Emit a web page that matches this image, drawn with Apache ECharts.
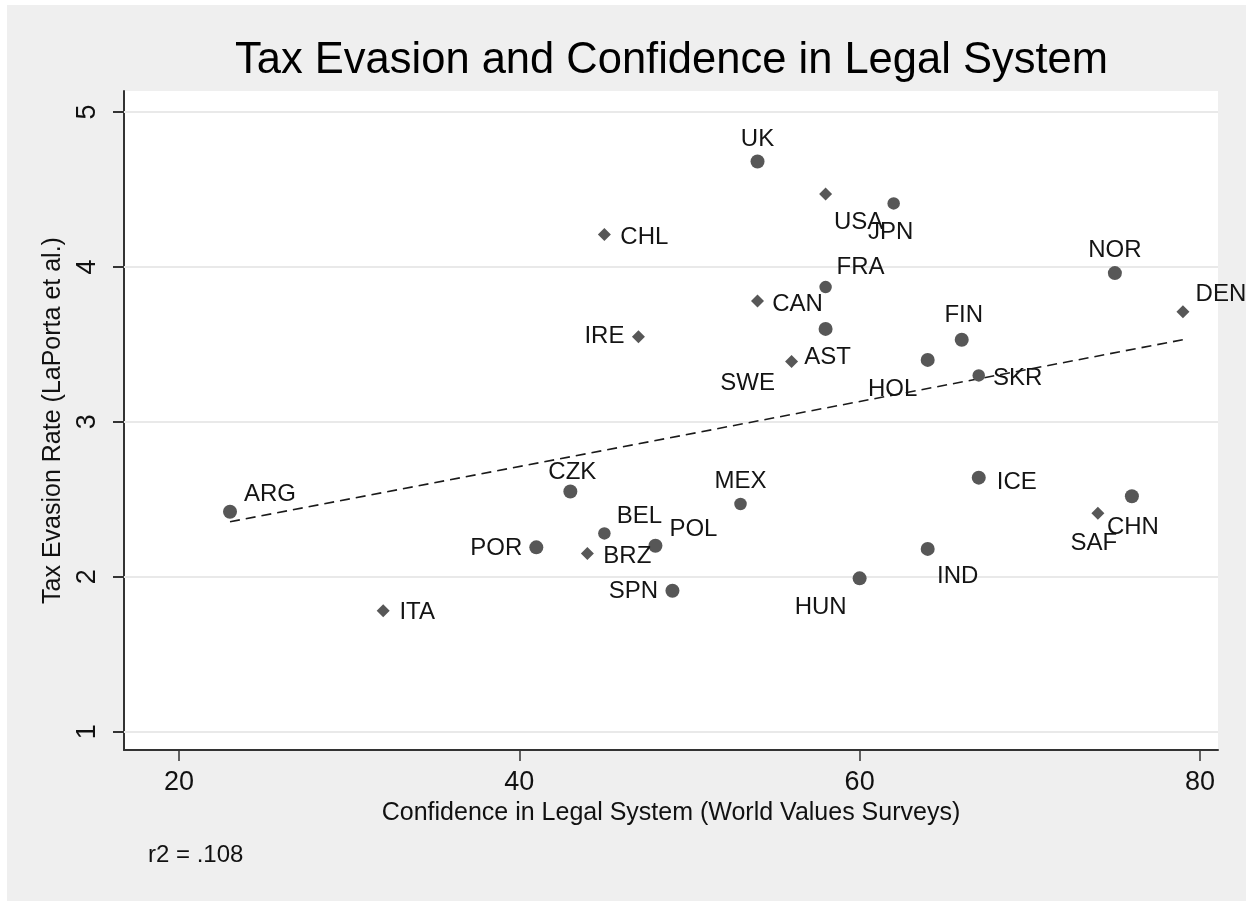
<!DOCTYPE html>
<html>
<head>
<meta charset="utf-8">
<title>Tax Evasion and Confidence in Legal System</title>
<script src="https://cdn.jsdelivr.net/npm/echarts@6/dist/echarts.min.js"></script>
<style>
  html, body { margin: 0; padding: 0; background: #ffffff; width: 1246px; height: 901px; overflow: hidden; }
  #chart { position: absolute; left: 7px; top: 5px; width: 1239px; height: 896px; }
</style>
</head>
<body>
<div id="chart"></div>
<script>
// Country codes, confidence in legal system (%), tax evasion rating
const countries = ['UK','USA','JPN','CHL','FRA','CAN','IRE','AST','SWE','HOL','FIN','SKR','NOR','DEN',
                   'ARG','CZK','POR','ITA','MEX','BEL','BRZ','POL','SPN','HUN','IND','ICE','SAF','CHN'];
const confidence = [54, 58, 62, 45, 58, 54, 47, 58, 56, 64, 66, 67, 75, 79,
                    23, 43, 41, 32, 53, 45, 44, 48, 49, 60, 64, 67, 74, 76];
const evasion = [4.68, 4.47, 4.41, 4.21, 3.87, 3.78, 3.55, 3.60, 3.39, 3.40, 3.53, 3.30, 3.96, 3.71,
                 2.42, 2.55, 2.19, 1.78, 2.47, 2.28, 2.15, 2.20, 1.91, 1.99, 2.18, 2.64, 2.41, 2.52];

// Linear fit (fitted values at the ends of the x range)
const fitX = [23, 79];
const fitY = [2.355, 3.53];

const xTicks = [20, 40, 60, 80];
const yTicks = [1, 2, 3, 4, 5];
const rSquared = '.108';

// ---- styling ----
const FONT = '"Liberation Sans", Arial, Helvetica, sans-serif';
const markerKinds = {
  big:   { symbol: 'circle',  size: 14 },
  mid:   { symbol: 'circle',  size: 12.5 },
  small: { symbol: 'diamond', size: 13 }
};
const markerKindOf = {
  UK: 'big', AST: 'big', HOL: 'big', FIN: 'big', NOR: 'big', ARG: 'big', CZK: 'big', POR: 'big',
  POL: 'big', SPN: 'big', HUN: 'big', IND: 'big', ICE: 'big', CHN: 'big',
  JPN: 'mid', MEX: 'mid', BEL: 'mid', SKR: 'mid', FRA: 'mid',
  USA: 'small', CHL: 'small', CAN: 'small', IRE: 'small', SWE: 'small', DEN: 'small',
  ITA: 'small', BRZ: 'small', SAF: 'small'
};
// label centre offset from marker centre, in px
const labelOffset = {
  UK: [0, -22], USA: [33, 28], JPN: [-3, 29], CHL: [40, 3], FRA: [35, -20], CAN: [40, 3],
  IRE: [-34, 0], AST: [2, 28], SWE: [-44, 22], HOL: [-35, 29], FIN: [2, -24], SKR: [39, 3],
  NOR: [0, -23], DEN: [38, -17], ARG: [40, -17], CZK: [2, -19], POR: [-40, 1], ITA: [34, 2],
  MEX: [0, -23], BEL: [35, -17], BRZ: [40, 3], POL: [38, -16], SPN: [-39, 1], HUN: [-39, 29],
  IND: [30, 27], ICE: [38, 5], SAF: [-4, 30], CHN: [1, 31]
};

const points = countries.map((c, i) => {
  const kind = markerKinds[markerKindOf[c]];
  return {
    name: c,
    value: [confidence[i], evasion[i]],
    symbol: kind.symbol,
    symbolSize: kind.size
  };
});

const chart = echarts.init(document.getElementById('chart'), null, { renderer: 'canvas' });

const option = {
  backgroundColor: '#efefef',
  animation: false,
  title: [
    {
      text: 'Tax Evasion and Confidence in Legal System',
      left: 664.5, top: 34, textAlign: 'center', padding: 0,
      textStyle: { fontFamily: FONT, fontSize: 43.5, fontWeight: 'normal', color: '#000' }
    },
    {
      text: 'r2 = ' + rSquared,
      left: 141, top: 838, padding: 0,
      textStyle: { fontFamily: FONT, fontSize: 24, fontWeight: 'normal', color: '#111' }
    }
  ],
  grid: {
    left: 117, right: 28, top: 86, bottom: 151,
    show: true, backgroundColor: '#ffffff', borderWidth: 0
  },
  xAxis: {
    type: 'value',
    min: 16.77, max: 81.06,
    name: 'Confidence in Legal System (World Values Surveys)',
    nameLocation: 'middle', nameGap: 51,
    nameTextStyle: { fontFamily: FONT, fontSize: 25, color: '#111' },
    axisLine: { show: true, onZero: false, lineStyle: { color: '#333', width: 2 } },
    axisTick: { show: true, customValues: xTicks, length: 11, lineStyle: { color: '#333', width: 1.5 } },
    axisLabel: { customValues: xTicks, margin: 19, fontFamily: FONT, fontSize: 27, color: '#111' },
    splitLine: { show: false }
  },
  yAxis: {
    type: 'value',
    min: 0.882, max: 5.1355,
    name: 'Tax Evasion Rate (LaPorta et al.)',
    nameLocation: 'middle', nameGap: 50,
    nameTextStyle: { fontFamily: FONT, fontSize: 25, color: '#111' },
    axisLine: { show: true, onZero: false, lineStyle: { color: '#333', width: 2 } },
    axisTick: { show: true, customValues: yTicks, length: 11, lineStyle: { color: '#333', width: 2 } },
    axisLabel: { customValues: yTicks, rotate: 90, margin: 23, fontFamily: FONT, fontSize: 27, color: '#111' },
    splitLine: { show: false }
  },
  series: [
    {
      // horizontal reference lines at the y ticks
      type: 'line',
      data: [],
      silent: true,
      markLine: {
        z: 1,
        silent: true,
        symbol: ['none', 'none'],
        label: { show: false },
        lineStyle: { color: '#e9e9e9', width: 2, type: 'solid' },
        data: yTicks.map(v => ({ yAxis: v }))
      }
    },
    {
      type: 'line',
      z: 2,
      data: fitX.map((x, i) => [x, fitY[i]]),
      showSymbol: false,
      silent: true,
      lineStyle: { color: '#1a1a1a', width: 1.6, type: [10, 6] }
    },
    {
      type: 'scatter',
      z: 3,
      data: points,
      itemStyle: { color: '#575757', opacity: 1 },
      label: {
        show: true,
        position: 'inside',
        align: 'center',
        verticalAlign: 'middle',
        formatter: '{b}',
        fontFamily: FONT,
        fontSize: 24,
        color: '#141414'
      },
      // shift each country code to its clock position around the marker
      labelLayout: function (params) {
        const off = labelOffset[countries[params.dataIndex]];
        return { dx: off[0], dy: off[1], hideOverlap: false };
      }
    }
  ]
};

chart.setOption(option);
</script>
</body>
</html>
